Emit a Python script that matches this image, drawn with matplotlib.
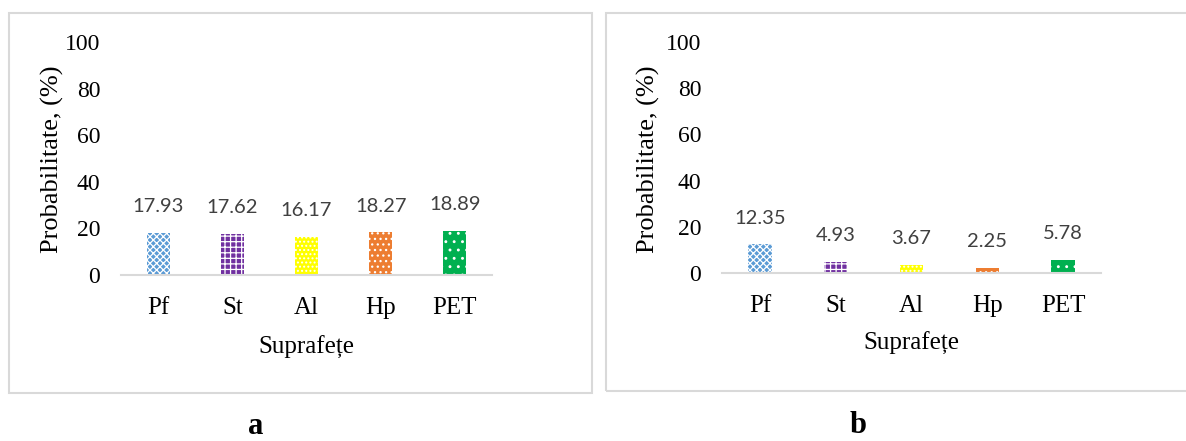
import matplotlib.pyplot as plt
from matplotlib.patches import Rectangle

surfaces = ['Pf', 'St', 'Al', 'Hp', 'PET']
prob_a = [17.93, 17.62, 16.17, 18.27, 18.89]
prob_b = [12.35, 4.93, 3.67, 2.25, 5.78]
yticks = [0, 20, 40, 60, 80, 100]

colors = ['#5B9BD5', '#7030A0', '#FFFF00', '#ED7D31', '#00B050']
hatches = ['xxxxx', '+++', '....', '...', '..']

W, H = 1186, 441
fig = plt.figure(figsize=(W / 100, H / 100), dpi=100)
plt.rcParams['hatch.linewidth'] = 0.9

serif = 'Liberation Serif'
lblfont = 'Lato'


def px(x0, y0, x1, y1):
    # pixel box (top-left origin) -> figure fraction rect
    return [x0 / W, 1 - y1 / H, (x1 - x0) / W, (y1 - y0) / H]


def panel(rect, vals, box, letter, letter_xy, ylab_x, xlab_y):
    # outer gray frame
    fig.patches.append(Rectangle((box[0] / W, 1 - box[3] / H),
                                 (box[2] - box[0]) / W, (box[3] - box[1]) / H,
                                 transform=fig.transFigure, fill=False,
                                 edgecolor='#D9D9D9', linewidth=1.5))
    ax = fig.add_axes(px(*rect))
    x = range(len(surfaces))
    bars = ax.bar(x, vals, width=0.31, color=colors, edgecolor='white',
                  linewidth=0, hatch=hatches)
    for b, v in zip(bars, vals):
        ax.annotate(f'{v:.2f}', (b.get_x() + b.get_width() / 2, v),
                    xytext=(0, 19), textcoords='offset points',
                    ha='center', va='center', fontsize=14.5,
                    family=lblfont, color='#404040')
    ax.set_xlim(-0.5, 4.5)
    ax.set_ylim(0, 100)
    ax.set_yticks(yticks)
    ax.set_xticks(list(x))
    ax.set_xticklabels(surfaces, family=serif, fontsize=18)
    ax.set_yticklabels([str(t) for t in yticks], family=serif, fontsize=17)
    ax.tick_params(axis='y', length=0, pad=15)
    ax.tick_params(axis='x', length=0, pad=16)
    for s in ['top', 'right', 'left']:
        ax.spines[s].set_visible(False)
    ax.spines['bottom'].set_color('#D9D9D9')
    ax.spines['bottom'].set_linewidth(1.5)
    ax.patch.set_alpha(0)
    fig.text(ylab_x / W, 1 - 159 / H, 'Probabilitate, (%)', rotation=90,
             ha='center', va='center', family=serif, fontsize=19)
    fig.text(((rect[0] + rect[2]) / 2) / W, 1 - xlab_y / H, 'Suprafețe',
             ha='center', va='center', family=serif, fontsize=18)
    # panel letter, placed by its baseline
    fig.text(letter_xy[0] / W, 1 - letter_xy[1] / H, letter, ha='center',
             va='baseline', family=serif, fontsize=22, fontweight='bold')
    return ax


panel((121, 42, 492, 275), prob_a, (9, 13, 592, 393), 'a', (256, 434), 52, 347)
panel((722, 42, 1101, 273), prob_b, (606, 13, 1195, 391), 'b', (858, 433), 648, 343)

fig.savefig('out.png', dpi=100)
